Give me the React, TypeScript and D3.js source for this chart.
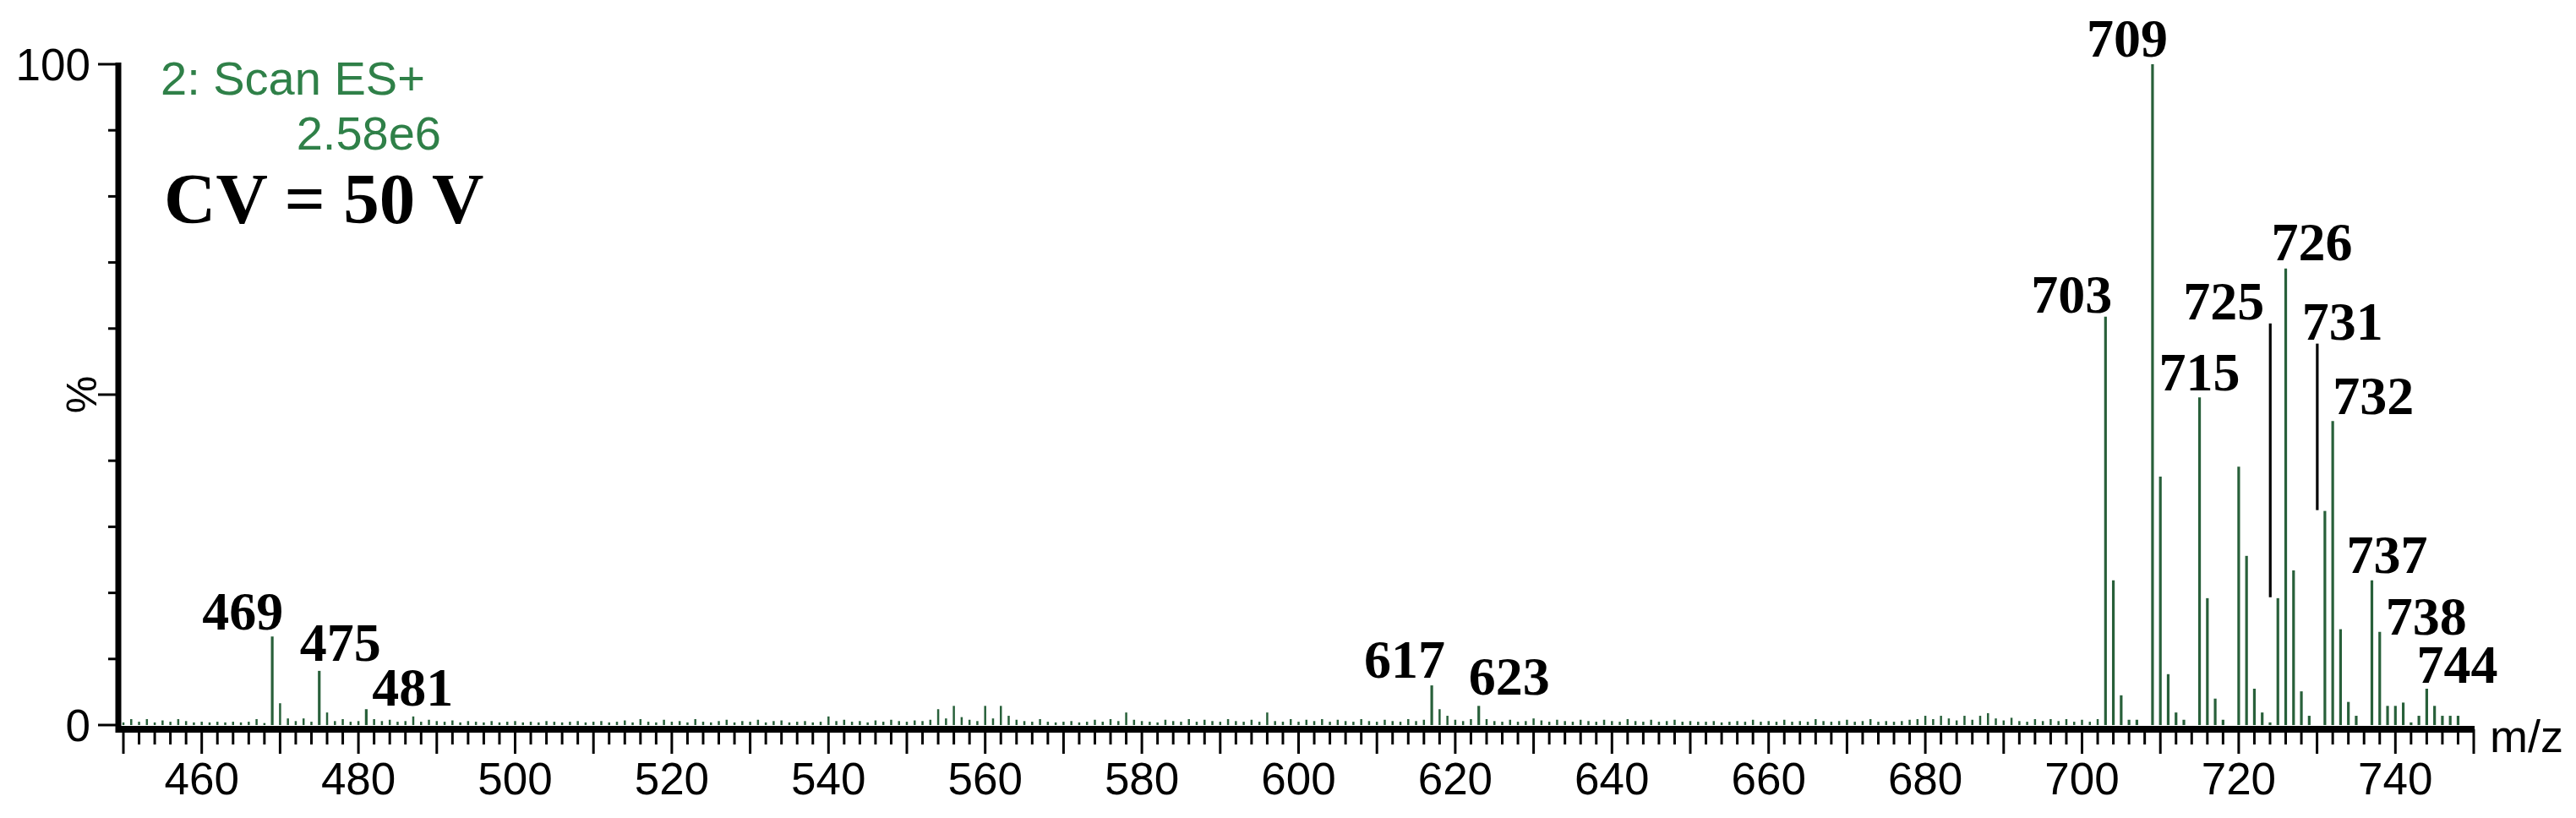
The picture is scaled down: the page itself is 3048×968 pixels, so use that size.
import React from 'react';
import * as d3 from 'd3';

// ---------- data ----------
const labeledMz = [469, 475, 481, 617, 623, 703, 709, 715, 725, 726, 731, 732, 737, 738, 744];
const labeledPct = [13.4, 8.2, 2.4, 6.0, 2.9, 61.8, 100, 49.6, 19.2, 69.1, 32.4, 46.0, 21.9, 14.1, 5.5];

const clusterMz = [704, 705, 706, 707, 710, 711, 712, 713, 716, 717, 718, 720, 721, 722, 723, 724, 727, 728, 729, 733, 734, 735, 739, 740, 741, 742, 743, 745, 746, 747, 748];
const clusterPct = [21.9, 4.5, 0.8, 0.8, 37.6, 7.7, 1.9, 0.8, 19.2, 4.0, 0.8, 39.1, 25.6, 5.5, 1.9, 0.4, 23.4, 5.1, 1.4, 14.5, 3.5, 1.4, 2.9, 2.9, 3.4, 0.4, 1.4, 2.9, 1.4, 1.4, 1.4];

const noisePeaks: [number, number][] = [
  [450, 0.4], [451, 0.9], [452, 0.5], [453, 0.9], [454, 0.4], [455, 0.7], [456, 0.5], [457, 0.9], [458, 0.6], [459, 0.4],
  [460, 0.5], [461, 0.4], [462, 0.5], [463, 0.4], [464, 0.5], [465, 0.4], [466, 0.5], [467, 0.9], [468, 0.3],
  [470, 3.3], [471, 1.0], [472, 0.6], [473, 1.0], [474, 0.5],
  [476, 1.9], [477, 0.6], [478, 0.9], [479, 0.5], [480, 0.6],
  [482, 0.9], [483, 0.6], [484, 0.8], [485, 0.5], [486, 0.6], [487, 1.3], [488, 0.5], [489, 0.8], [490, 0.6], [491, 0.5],
  [492, 0.7], [493, 0.4], [494, 0.6], [495, 0.5], [496, 0.4], [497, 0.6], [498, 0.4], [499, 0.5],
  [500, 0.6], [501, 0.4], [502, 0.5], [503, 0.4], [504, 0.6], [505, 0.5], [506, 0.4], [507, 0.5], [508, 0.6], [509, 0.4],
  [510, 0.5], [511, 0.6], [512, 0.4], [513, 0.5], [514, 0.7], [515, 0.4], [516, 0.9], [517, 0.5], [518, 0.4], [519, 0.8],
  [520, 0.5], [521, 0.6], [522, 0.4], [523, 0.9], [524, 0.5], [525, 0.4], [526, 0.6], [527, 0.8], [528, 0.4], [529, 0.6],
  [530, 0.5], [531, 0.8], [532, 0.4], [533, 0.6], [534, 0.7], [535, 0.4], [536, 0.5], [537, 0.6], [538, 0.4], [539, 0.5],
  [540, 1.3], [541, 0.6], [542, 0.8], [543, 0.5], [544, 0.6], [545, 0.4], [546, 0.7], [547, 0.5], [548, 0.8], [549, 0.6],
  [550, 0.5], [551, 0.7], [552, 0.6], [553, 0.8], [554, 2.4], [555, 1.0], [556, 2.9], [557, 1.2], [558, 0.8], [559, 0.6],
  [560, 2.9], [561, 1.0], [562, 2.9], [563, 1.4], [564, 0.8], [565, 0.6], [566, 0.5], [567, 0.9], [568, 0.5], [569, 0.4],
  [570, 0.5], [571, 0.6], [572, 0.4], [573, 0.5], [574, 0.8], [575, 0.5], [576, 0.9], [577, 0.6], [578, 1.9], [579, 0.8],
  [580, 0.6], [581, 0.5], [582, 0.4], [583, 0.8], [584, 0.6], [585, 0.5], [586, 0.9], [587, 0.5], [588, 0.8], [589, 0.6],
  [590, 0.5], [591, 0.9], [592, 0.6], [593, 0.5], [594, 0.8], [595, 0.5], [596, 1.9], [597, 0.6], [598, 0.5], [599, 0.9],
  [600, 0.5], [601, 0.8], [602, 0.6], [603, 0.9], [604, 0.5], [605, 0.8], [606, 0.6], [607, 0.5], [608, 0.9], [609, 0.6],
  [610, 0.5], [611, 0.8], [612, 0.6], [613, 0.5], [614, 0.9], [615, 0.6], [616, 0.8],
  [618, 2.4], [619, 1.4], [620, 0.8], [621, 0.6], [622, 0.9],
  [624, 0.9], [625, 0.6], [626, 0.5], [627, 0.8], [628, 0.5], [629, 0.6],
  [630, 1.0], [631, 0.7], [632, 0.5], [633, 0.8], [634, 0.6], [635, 0.5], [636, 0.8], [637, 0.6], [638, 0.5], [639, 0.8],
  [640, 0.6], [641, 0.5], [642, 0.9], [643, 0.6], [644, 0.5], [645, 0.8], [646, 0.5], [647, 0.6], [648, 0.8], [649, 0.5],
  [650, 0.6], [651, 0.5], [652, 0.5], [653, 0.6], [654, 0.4], [655, 0.5], [656, 0.6], [657, 0.5], [658, 0.8], [659, 0.5],
  [660, 0.6], [661, 0.5], [662, 0.8], [663, 0.5], [664, 0.6], [665, 0.5], [666, 0.9], [667, 0.6], [668, 0.5], [669, 0.6],
  [670, 0.8], [671, 0.5], [672, 0.6], [673, 0.9], [674, 0.5], [675, 0.6], [676, 0.5], [677, 0.6], [678, 0.8], [679, 0.9],
  [680, 1.4], [681, 0.9], [682, 1.4], [683, 1.0], [684, 0.7], [685, 1.4], [686, 0.8], [687, 1.4], [688, 1.8], [689, 1.0],
  [690, 0.7], [691, 1.1], [692, 0.6], [693, 0.5], [694, 0.9], [695, 0.6], [696, 0.9], [697, 0.6], [698, 0.9], [699, 0.5],
  [700, 0.8], [701, 0.5], [702, 0.9],
];

const xTickLabels = [460, 480, 500, 520, 540, 560, 580, 600, 620, 640, 660, 680, 700, 720, 740];
const yTickLabels = [0, 100];
const leaderPeaks = [725, 731];

// ---------- layout (pixels) ----------
const W = 3048;
const H = 968;
const labelLayout: Record<number, { dx: number; dy: number }> = {
  469: { dx: -35, dy: -8 },
  475: { dx: 25, dy: -12 },
  481: { dx: 55, dy: -4 },
  617: { dx: -32, dy: -9 },
  623: { dx: 36, dy: -13 },
  703: { dx: -40, dy: -5 },
  709: { dx: -30, dy: -9 },
  715: { dx: 0, dy: -8 },
  725: { dx: -64, dy: -330 },
  726: { dx: 31, dy: -10 },
  731: { dx: 21, dy: -203 },
  732: { dx: 48, dy: -8 },
  737: { dx: 18, dy: -9 },
  738: { dx: 55, dy: 3 },
  744: { dx: 36, dy: -7 },
};

const GREEN = '#28603a';
const GREEN_TEXT = '#2f8048';
const SANS = '"Liberation Sans", Arial, sans-serif';
const SERIF = '"Liberation Serif", "Times New Roman", serif';

export default function App() {
  const x = d3.scaleLinear().domain([450, 750]).range([146, 2927]);
  const y = d3.scaleLinear().domain([0, 100]).range([858, 76]);
  const xTicks = x.ticks(150);
  const yTicks = y.ticks(10);
  const axisX = 140;
  const axisY = 863;

  return (
    <svg width={W} height={H} style={{ position: 'absolute', left: 0, top: 0, background: '#fff' }}>
      <rect x={0} y={0} width={W} height={H} fill="#fff" />

      {/* noise peaks */}
      {noisePeaks.map(([m, p]) => (
        <line key={'n' + m} x1={x(m)} x2={x(m)} y1={y(0)} y2={y(p)} stroke={GREEN} strokeWidth={2.5} />
      ))}
      {/* cluster peaks */}
      {clusterMz.map((m, i) => (
        <line key={'c' + m} x1={x(m)} x2={x(m)} y1={y(0)} y2={y(clusterPct[i])} stroke={GREEN} strokeWidth={3.2} />
      ))}
      {/* labelled peaks */}
      {labeledMz.map((m, i) => (
        <line key={'l' + m} x1={x(m)} x2={x(m)} y1={y(0)} y2={y(labeledPct[i])} stroke={GREEN} strokeWidth={3.2} />
      ))}
      {/* leader lines */}
      {leaderPeaks.map((m) => {
        const i = labeledMz.indexOf(m);
        const top = y(labeledPct[i]);
        const lay = labelLayout[m];
        return (
          <line key={'ld' + m} x1={x(m) - 9} x2={x(m) - 9} y1={top + lay.dy + 5} y2={top - 1} stroke="#000" strokeWidth={3.2} />
        );
      })}
      {/* peak labels */}
      {labeledMz.map((m, i) => {
        const lay = labelLayout[m];
        return (
          <text key={'t' + m} x={x(m) + lay.dx} y={y(labeledPct[i]) + lay.dy} textAnchor="middle"
            fontFamily={SERIF} fontWeight="bold" fontSize={64} fill="#000">{m}</text>
        );
      })}

      {/* y axis */}
      <line x1={axisX} x2={axisX} y1={y(100) - 2} y2={axisY + 4} stroke="#000" strokeWidth={7} />
      {yTicks.map((t) => {
        const major = t % 50 === 0;
        return (
          <line key={'yt' + t} x1={axisX - (major ? 24 : 12)} x2={axisX} y1={y(t)} y2={y(t)} stroke="#000" strokeWidth={3} />
        );
      })}
      {yTickLabels.map((t) => (
        <text key={'yl' + t} x={107} y={y(t) + 19} textAnchor="end" fontFamily={SANS} fontSize={53} fill="#000">{t}</text>
      ))}
      <text transform={`translate(114, ${y(50)}) rotate(-90)`} textAnchor="middle" fontFamily={SANS} fontSize={50} fill="#000">%</text>

      {/* x axis */}
      <line x1={axisX - 3} x2={x(750) + 1} y1={axisY} y2={axisY} stroke="#000" strokeWidth={8} />
      {xTicks.map((t) => {
        const major = t % 10 === 0;
        return (
          <line key={'xt' + t} x1={x(t)} x2={x(t)} y1={axisY} y2={axisY + (major ? 29 : 18)} stroke="#000" strokeWidth={3} />
        );
      })}
      {xTickLabels.map((t) => (
        <text key={'xl' + t} x={x(t)} y={940} textAnchor="middle" fontFamily={SANS} fontSize={53} fill="#000">{t}</text>
      ))}
      <text x={2946} y={890} fontFamily={SANS} fontSize={54} fill="#000">m/z</text>

      {/* header texts */}
      <text x={190} y={112} fontFamily={SANS} fontSize={56} fill={GREEN_TEXT}>2: Scan ES+</text>
      <text x={522} y={177} textAnchor="end" fontFamily={SANS} fontSize={56} fill={GREEN_TEXT}>2.58e6</text>
      <text x={194} y={264} fontFamily={SERIF} fontWeight="bold" fontSize={85} fill="#000">CV = 50 V</text>
    </svg>
  );
}
